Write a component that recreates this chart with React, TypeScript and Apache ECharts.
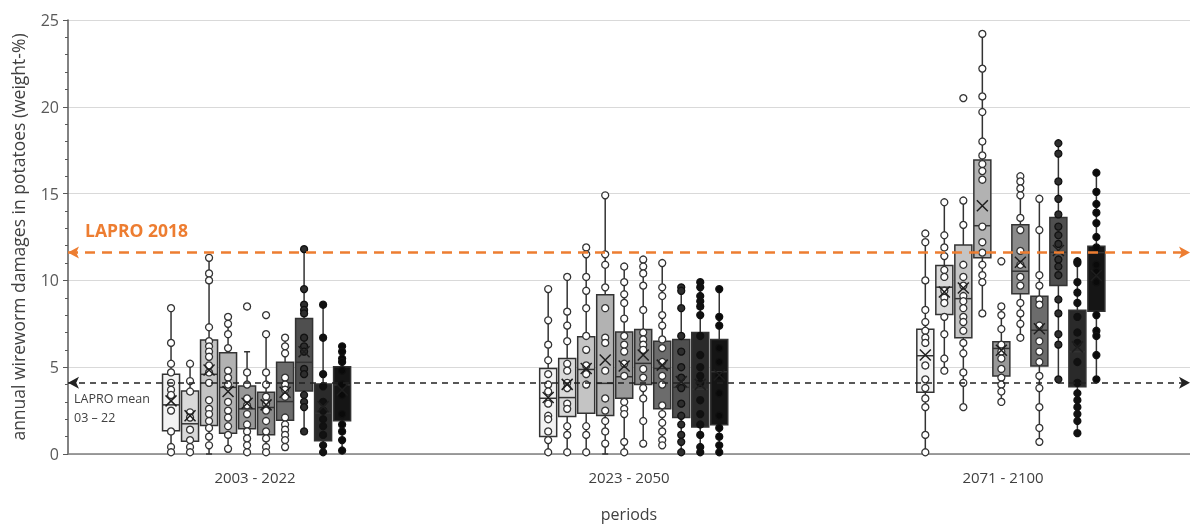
import React, { useEffect, useRef } from 'react';
import * as echarts from 'echarts';

const PERIODS = ['2003 - 2022', '2023 - 2050', '2071 - 2100'];

// five-number summaries per period (rows) and box (columns, light -> dark)
const BOX_MIN = [
  [0, 0, 0, 0.15, 0, 0, 0.25, 1.26, 0, 0.15],
  [0, 0, 0, 0, 0, 0.57, 0.44, 0, 0, 0],
  [0.05, 4.74, 2.68, 8.14, 2.92, 6.69, 0.69, 4.26, 1.2, 4.32],
];
const BOX_Q1 = [
  [1.34, 0.73, 1.64, 1.2, 1.45, 1.11, 1.95, 3.63, 0.76, 1.91],
  [1.01, 2.16, 2.35, 2.22, 3.21, 4.01, 2.6, 2.1, 1.55, 1.68],
  [3.56, 8.03, 6.69, 11.3, 4.49, 9.23, 5.07, 9.71, 3.88, 8.22],
];
const BOX_MEDIAN = [
  [2.83, 1.74, 4.59, 3.84, 2.6, 2.68, 3.02, 5.28, 2.35, 3.98],
  [3.21, 3.25, 4.87, 4.07, 4.45, 5.22, 4.93, 3.84, 3.73, 4.74],
  [5.66, 9.61, 8.95, 13.15, 6.08, 10.53, 7.13, 11.62, 5.89, 11.6],
];
const BOX_Q3 = [
  [4.59, 3.63, 6.57, 5.83, 3.92, 3.56, 5.28, 7.8, 4.03, 5.03],
  [4.93, 5.5, 6.75, 9.17, 7.03, 7.17, 6.5, 6.59, 7.0, 6.59],
  [7.19, 10.86, 12.04, 16.93, 6.46, 13.21, 9.08, 13.63, 8.28, 11.96],
];
const BOX_MAX = [
  [8.37, 5.18, 11.3, 7.87, 5.89, 6.9, 6.75, 11.81, 8.56, 6.27],
  [9.48, 10.19, 11.91, 14.87, 10.76, 11.18, 10.95, 9.61, 9.9, 9.46],
  [12.19, 14.45, 14.58, 24.24, 8.47, 16.02, 14.74, 17.93, 11.09, 16.17],
];
const BOX_MEAN = [
  [3.06, 2.2, 4.84, 3.6, 2.92, 2.83, 3.56, 5.89, 2.73, 3.69],
  [3.25, 4.01, 4.93, 5.41, 5.07, 5.7, 5.12, 4.17, 4.01, 4.55],
  [5.7, 9.33, 9.56, 14.3, 5.98, 11.05, 7.22, 11.72, 6.17, 10.28],
];

// annual values (points) per box
const POINTS_2003_2022 = [
  [8.4, 6.4, 5.2, 4.7, 4.1, 3.7, 3.4, 2.5, 1.3, 0.4, 0.1],
  [5.2, 4.2, 3.6, 2.4, 2.1, 1.4, 0.8, 0.4, 0.1],
  [11.3, 10.4, 10.0, 7.3, 6.5, 6.2, 5.9, 5.6, 5.1, 4.7, 4.1, 3.1, 2.6, 2.3, 1.9, 1.5, 1.0, 0.5],
  [7.9, 7.5, 6.9, 6.1, 4.8, 4.4, 4.0, 3.0, 2.5, 2.1, 1.6, 1.1, 0.3],
  [8.5, 4.7, 4.0, 3.2, 2.8, 2.3, 1.7, 1.3, 0.9, 0.5, 0.1],
  [8.0, 6.9, 4.7, 4.0, 3.3, 2.9, 2.5, 1.9, 1.3, 0.9, 0.4, 0.1],
  [6.7, 6.2, 5.8, 4.4, 4.0, 3.7, 3.3, 2.1, 1.7, 1.4, 1.1, 0.8, 0.4],
  [11.8, 9.5, 8.6, 8.3, 8.1, 6.7, 6.2, 5.9, 4.9, 4.6, 3.4, 3.0, 2.7, 1.3],
  [8.6, 6.7, 4.6, 3.9, 3.0, 2.5, 2.0, 1.6, 1.1, 0.5, 0.1],
  [6.2, 5.9, 5.5, 5.3, 4.8, 4.0, 3.4, 2.3, 1.7, 1.3, 0.8, 0.2],
];
const POINTS_2023_2050 = [
  [9.5, 7.7, 6.3, 5.4, 4.6, 4.0, 3.6, 2.9, 2.2, 2.0, 1.3, 0.8, 0.1],
  [10.2, 8.2, 7.4, 6.5, 5.2, 4.8, 4.1, 3.8, 2.9, 2.6, 1.6, 1.1, 0.1],
  [11.9, 11.5, 10.2, 9.4, 8.4, 6.8, 6.0, 5.1, 4.6, 4.0, 1.6, 1.1, 0.1],
  [14.9, 11.5, 10.9, 9.6, 8.4, 6.7, 6.4, 4.8, 3.2, 2.5, 1.9, 1.3, 0.6],
  [10.8, 9.9, 9.2, 8.7, 7.8, 6.8, 6.3, 5.9, 5.2, 4.5, 3.0, 2.6, 2.3, 0.7, 0.1],
  [11.2, 10.8, 10.4, 9.7, 8.3, 7.0, 6.6, 6.3, 6.0, 4.9, 4.4, 3.8, 3.2, 1.9, 0.6],
  [11.0, 9.6, 9.1, 8.0, 7.4, 6.6, 6.1, 5.3, 4.5, 4.0, 2.8, 2.3, 1.8, 1.3, 0.8, 0.5],
  [9.6, 9.4, 8.4, 6.8, 5.9, 5.0, 4.4, 3.8, 2.9, 2.2, 1.7, 1.1, 0.7, 0.1],
  [9.9, 9.6, 9.1, 8.8, 8.5, 8.0, 6.8, 5.7, 5.0, 4.5, 4.1, 3.1, 2.3, 1.7, 1.1, 0.4, 0.1],
  [9.5, 7.9, 7.4, 6.1, 5.3, 4.5, 3.5, 2.2, 1.5, 1.0, 0.5, 0.1],
];
const POINTS_2071_2100 = [
  [12.7, 12.2, 10.0, 8.3, 7.6, 7.1, 6.7, 6.4, 5.1, 4.3, 3.8, 3.2, 2.7, 1.1, 0.1],
  [14.5, 12.6, 11.9, 11.4, 10.6, 10.2, 9.4, 9.0, 8.7, 7.9, 6.9, 5.5, 4.8],
  [20.5, 14.6, 13.2, 10.9, 10.2, 9.7, 9.1, 8.8, 8.4, 7.9, 7.6, 7.1, 6.4, 5.8, 4.7, 4.1, 2.7],
  [24.2, 22.2, 20.6, 19.7, 18.0, 17.2, 16.7, 16.3, 15.8, 13.1, 12.2, 11.6, 10.9, 10.3, 9.9, 8.1],
  [11.1, 8.5, 8.0, 7.2, 6.3, 5.9, 5.5, 4.9, 4.4, 4.0, 3.6, 3.0],
  [16.0, 15.7, 15.3, 14.9, 13.6, 12.9, 11.7, 10.9, 10.2, 9.7, 8.7, 8.1, 7.5, 6.7],
  [14.7, 12.9, 10.3, 9.7, 8.9, 8.6, 7.4, 6.5, 5.9, 5.3, 4.5, 3.8, 2.7, 1.5, 0.7],
  [17.9, 17.3, 15.7, 14.7, 13.8, 13.1, 12.6, 12.1, 11.2, 10.8, 10.3, 8.9, 8.1, 6.9, 6.3, 4.3],
  [11.1, 11.0, 9.9, 9.3, 8.7, 7.9, 7.0, 6.4, 5.3, 4.1, 3.5, 3.1, 2.7, 2.3, 1.9, 1.2],
  [16.2, 15.1, 14.4, 13.9, 13.3, 12.5, 11.9, 10.9, 10.5, 9.9, 8.0, 7.1, 6.8, 5.7, 4.3],
];
const POINTS = [POINTS_2003_2022, POINTS_2023_2050, POINTS_2071_2100];

const LAPRO_2018 = 11.6;
const LAPRO_MEAN = 4.1;

const BOX_FILLS = ['#f2f2f2', '#d9d9d9', '#c4c4c4', '#b2b2b2', '#989898', '#8a8a8a', '#6c6c6c', '#4f4f4f', '#2a2a2a', '#151515'];
const POINT_FILLS = ['#ffffff', '#ffffff', '#ffffff', '#ffffff', '#ffffff', '#ffffff', '#ffffff', '#2e2e2e', '#111111', '#0a0a0a'];

const FONT = '"Open Sans", "Noto Sans", sans-serif';
const BOX_STEP = 0.0504; // spacing of boxes within a period, in period units

const boxX = (g: number, i: number) => g + 0.5 + (i - 4.5) * BOX_STEP;

export default function App() {
  const ref = useRef<HTMLDivElement>(null);
  useEffect(() => {
    if (!ref.current) return;
    const chart = echarts.init(ref.current, null, { renderer: 'svg' });

    const boxData: any[] = [];
    const pointData: any[] = [];
    const meanData: any[] = [];
    for (let g = 0; g < PERIODS.length; g++) {
      for (let i = 0; i < 10; i++) {
        const x = boxX(g, i);
        boxData.push([x, BOX_MIN[g][i], BOX_Q1[g][i], BOX_MEDIAN[g][i], BOX_Q3[g][i], BOX_MAX[g][i], i]);
        meanData.push([x, BOX_MEAN[g][i]]);
        for (const v of POINTS[g][i]) {
          pointData.push({
            value: [x, v],
            itemStyle: { color: POINT_FILLS[i], borderColor: i >= 7 ? '#111' : '#333333' },
          });
        }
      }
    }

    const stroke = '#333333';
    chart.setOption({
      animation: false,
      textStyle: { fontFamily: FONT },
      grid: { left: 68, right: 0, top: 20, bottom: 71, containLabel: false },
      xAxis: [
        {
          type: 'category',
          data: PERIODS,
          name: 'periods',
          nameLocation: 'middle',
          nameGap: 52,
          nameTextStyle: { fontSize: 16, color: '#404040', fontFamily: FONT },
          axisLine: { show: true, lineStyle: { color: '#7f7f7f', width: 1.5 } },
          axisTick: { show: false },
          axisLabel: { fontSize: 15, color: '#404040', margin: 15, fontFamily: FONT },
          splitLine: { show: false },
        },
        {
          type: 'value',
          min: 0,
          max: 2.975,
          show: false,
          splitLine: { show: false },
        },
      ],
      yAxis: {
        type: 'value',
        min: 0,
        max: 25,
        interval: 5,
        name: 'annual wireworm damages in potatoes (weight-%)',
        nameLocation: 'middle',
        nameGap: 41,
        nameTextStyle: { fontSize: 17.5, color: '#404040', fontFamily: FONT },
        axisLine: { show: true, lineStyle: { color: '#595959', width: 1.5 } },
        axisTick: { show: true, length: 5, lineStyle: { color: '#595959' } },
        minorTick: { show: true, splitNumber: 5, length: 3, lineStyle: { color: '#595959' } },
        splitLine: { lineStyle: { color: '#d9d9d9', width: 1 } },
        axisLabel: { fontSize: 16, color: '#595959', margin: 9, fontFamily: FONT },
      },
      series: [
        {
          type: 'custom',
          xAxisIndex: 1,
          z: 2,
          encode: { x: 0, y: [1, 5] },
          data: boxData,
          renderItem: (params: any, api: any) => {
            const x = api.value(0);
            const lo = api.coord([x, api.value(1)]);
            const q1 = api.coord([x, api.value(2)]);
            const md = api.coord([x, api.value(3)]);
            const q3 = api.coord([x, api.value(4)]);
            const hi = api.coord([x, api.value(5)]);
            const fill = BOX_FILLS[api.value(6)];
            const cx = lo[0];
            const hw = 8.5;
            const cap = 3;
            const ls = { stroke, lineWidth: 1.5 };
            return {
              type: 'group',
              children: [
                { type: 'line', shape: { x1: cx, y1: lo[1], x2: cx, y2: hi[1] }, style: ls },
                { type: 'line', shape: { x1: cx - cap, y1: hi[1], x2: cx + cap, y2: hi[1] }, style: ls },
                { type: 'line', shape: { x1: cx - cap, y1: lo[1], x2: cx + cap, y2: lo[1] }, style: ls },
                {
                  type: 'rect',
                  shape: { x: cx - hw, y: q3[1], width: hw * 2, height: q1[1] - q3[1] },
                  style: { fill, stroke, lineWidth: 1.5 },
                },
                { type: 'line', shape: { x1: cx - hw, y1: md[1], x2: cx + hw, y2: md[1] }, style: ls },
              ],
            };
          },
        },
        {
          type: 'scatter',
          xAxisIndex: 1,
          z: 3,
          symbol: 'circle',
          symbolSize: 7,
          itemStyle: { borderWidth: 1.3, opacity: 1 },
          data: pointData,
          silent: true,
          markLine: {
            silent: true,
            symbol: ['arrow', 'arrow'],
            symbolSize: [9, 11],
            data: [
              {
                yAxis: LAPRO_2018,
                lineStyle: { color: '#ED7D31', type: [10, 7], width: 2.5 },
                itemStyle: { color: '#ED7D31' },
                label: {
                  show: true,
                  position: 'insideStartTop',
                  formatter: 'LAPRO 2018',
                  color: '#ED7D31',
                  fontSize: 17.5,
                  fontWeight: 'bold',
                  fontFamily: FONT,
                  distance: [17, 14],
                },
              },
              {
                yAxis: LAPRO_MEAN,
                lineStyle: { color: '#222222', type: [6, 5], width: 1.5 },
                itemStyle: { color: '#222222' },
                label: {
                  show: true,
                  position: 'insideStartBottom',
                  formatter: 'LAPRO mean\n03 – 22',
                  color: '#404040',
                  fontSize: 12.5,
                  lineHeight: 19,
                  fontFamily: FONT,
                  distance: [6, 6],
                },
              },
            ],
          },
        },
        {
          type: 'scatter',
          xAxisIndex: 1,
          z: 4,
          symbol: 'path://M0 0L10 10M10 0L0 10',
          symbolSize: 11,
          itemStyle: { color: 'rgba(0,0,0,0)', borderColor: '#1e1e1e', borderWidth: 1.5, opacity: 1 },
          data: meanData,
          silent: true,
        },
      ],
    });
    return () => chart.dispose();
  }, []);
  return <div ref={ref} style={{ position: 'fixed', left: 0, top: 0, width: 1190, height: 527 }} />;
}
